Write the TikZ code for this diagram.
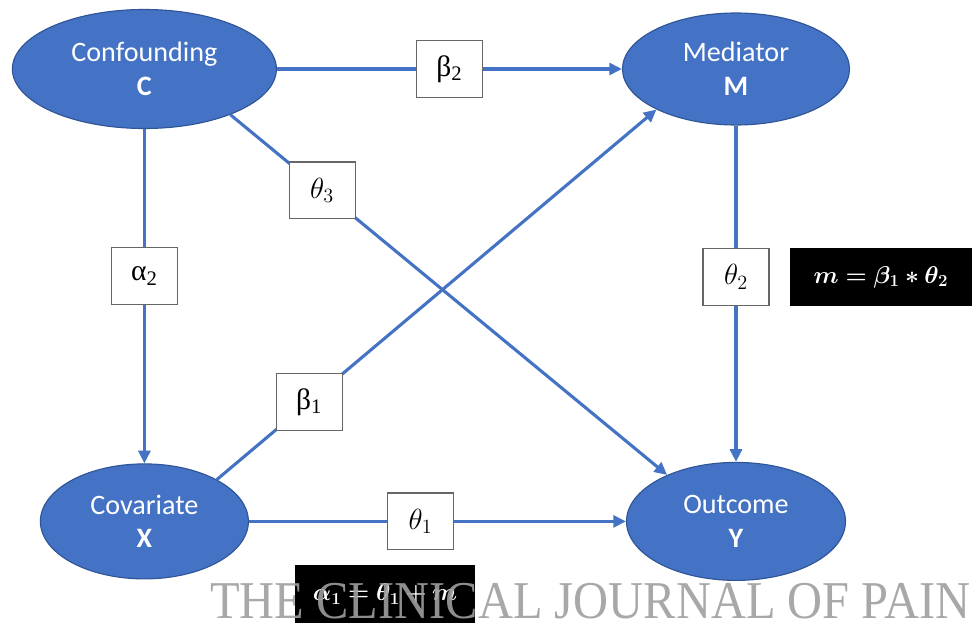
\documentclass[tikz,border=0pt]{standalone}
\usepackage{amsmath,amssymb,bm}
\usepackage{graphicx}
\usepackage{fontspec}
\newfontfamily\calfont{Carlito}
\newfontfamily\grkfont{Liberation Serif}
\newfontfamily\wmfont{Liberation Serif}
\usetikzlibrary{arrows.meta,shapes.geometric,positioning}

\definecolor{nodeblue}{HTML}{4472C4}
\definecolor{rimblue}{HTML}{2F5597}
\definecolor{linkblue}{HTML}{4472C4}

\begin{document}
\begin{tikzpicture}[>={Triangle[length=9pt,width=8.5pt]},
    var/.style={ellipse, fill=nodeblue, draw=rimblue, line width=0.8pt, text=white,
        align=center, inner sep=0pt, font=\calfont\fontsize{20}{24}\selectfont},
    link/.style={->, draw=linkblue, line width=2.2pt},
    coef/.style={draw=black!60, fill=white, line width=0.8pt, minimum width=1.65cm,
        minimum height=1.42cm, inner sep=0pt, font=\fontsize{21}{24}\selectfont},
    resbox/.style={fill=black, text=white, minimum width=4.5cm, minimum height=1.45cm,
        inner sep=0pt, font=\fontsize{17}{20}\selectfont}]

    \useasboundingbox (0,0) rectangle (24.35,15.575);

    % --- 变量节点 ---
    \node[var, minimum width=6.6cm, minimum height=2.975cm]  (C) at (3.61,13.85)  {Confounding\\\textbf{C}};
    \node[var, minimum width=5.675cm, minimum height=2.8cm]  (M) at (18.4,13.85)  {Mediator\\\textbf{M}};
    \node[var, minimum width=5.2cm, minimum height=2.875cm]  (X) at (3.61,2.54)   {Covariate\\\textbf{X}};
    \node[var, minimum width=5.475cm, minimum height=2.95cm] (Y) at (18.4,2.54)   {Outcome\\\textbf{Y}};

    % --- 路径与系数 ---
    \draw[link] (C) -- node[coef] {{\grkfont β\textsubscript{2}}} (M);
    \draw[link] (C) -- node[coef, pos=0.44] {{\grkfont α\textsubscript{2}}} (X);
    \draw[link] (M) -- node[coef, pos=0.45] {$\theta_2$} (Y);
    \draw[link] (X) -- node[coef, pos=0.455] {$\theta_1$} (Y);
    \draw[link] (C.-28) -- node[coef, pos=0.21] {$\theta_3$} (Y.146);
    \draw[link] (X.30) -- node[coef, pos=0.21] {{\grkfont β\textsubscript{1}}} (M.207);

    % --- 效应公式 ---
    \node[resbox, minimum width=4.55cm] (mval) at (22.025,8.65) {$\bm{m = \beta_1 * \theta_2}$};
    \node[resbox] (aval) at (9.625,0.725) {$\bm{\alpha_1 = \theta_1 + m}$};

    % --- 水印 ---
    \node[anchor=base west, text=black!38, inner sep=0pt, opacity=0.9] (journal) at (5.25,0.125)
        {\resizebox{19cm}{0.88cm}{\wmfont THE CLINICAL JOURNAL OF PAIN}};

\end{tikzpicture}
\end{document}
